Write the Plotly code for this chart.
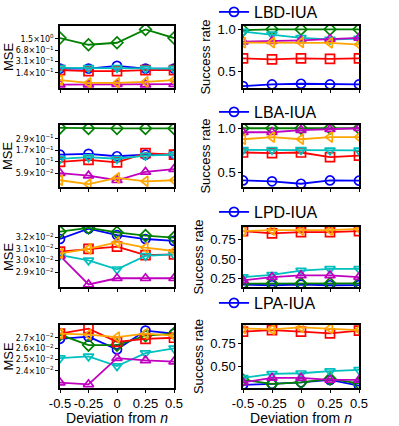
import plotly.graph_objects as go
import math

deviation = [-0.5, -0.25, 0, 0.25, 0.5]
attacks = ['LBD-IUA', 'LBA-IUA', 'LPD-IUA', 'LPA-IUA']

# порядок серий: blue, green, red, cyan, magenta, orange
colors = ['#0000FF', '#008000', '#FF0000', '#00BFBF', '#BF00BF', '#FFA500']
symbols = ['circle-open', 'diamond-open', 'square-open', 'triangle-down-open',
           'triangle-up-open', 'triangle-left-open']

# MSE (левая колонка)
mse_lbd = [
    [0.19, 0.19, 0.23, 0.19, 0.19],
    [1.6, 1.0, 1.15, 2.9, 1.6],
    [0.17, 0.16, 0.16, 0.17, 0.17],
    [0.20, 0.20, 0.20, 0.19, 0.19],
    [0.062, 0.062, 0.064, 0.062, 0.064],
    [0.085, 0.07, 0.07, 0.075, 0.085],
]
mse_lba = [
    [0.14, 0.145, 0.13, 0.14, 0.14],
    [0.48, 0.47, 0.47, 0.47, 0.47],
    [0.10, 0.11, 0.098, 0.15, 0.14],
    [0.115, 0.125, 0.116, 0.134, 0.14],
    [0.06, 0.053, 0.043, 0.063, 0.072],
    [0.043, 0.036, 0.048, 0.041, 0.043],
]
mse_lpd = [
    [0.03187, 0.03283, 0.03223, 0.03187, 0.03170],
    [0.03254, 0.03290, 0.03248, 0.03218, 0.03200],
    [0.03074, 0.03098, 0.03119, 0.03044, 0.03050],
    [0.03044, 0.02999, 0.02924, 0.03038, 0.03050],
    [0.03038, 0.02800, 0.02850, 0.02850, 0.02850],
    [0.03059, 0.03098, 0.03158, 0.03110, 0.03080],
]
mse_lpa = [
    [0.0269, 0.0271, 0.0259, 0.0277, 0.0274],
    [0.0273, 0.0263, 0.0263, 0.0272, 0.0274],
    [0.0274, 0.0279, 0.0266, 0.0269, 0.0270],
    [0.0251, 0.02526, 0.0244, 0.02556, 0.0260],
    [0.0230, 0.02286, 0.0251, 0.0249, 0.0248],
    [0.0274, 0.0273, 0.02706, 0.0274, 0.0272],
]

# Success rate (правая колонка)
sr_lbd = [
    [0.33, 0.35, 0.358, 0.35, 0.35],
    [0.99, 1.0, 1.0, 1.0, 1.0],
    [0.657, 0.646, 0.657, 0.652, 0.657],
    [0.972, 0.94, 0.90, 0.88, 0.89],
    [0.855, 0.86, 0.87, 0.885, 0.90],
    [0.843, 0.843, 0.845, 0.84, 0.82],
]
sr_lba = [
    [0.41, 0.40, 0.373, 0.41, 0.407],
    [1.0, 1.0, 1.0, 1.0, 1.0],
    [0.726, 0.72, 0.726, 0.673, 0.69],
    [0.756, 0.756, 0.756, 0.75, 0.75],
    [0.955, 0.955, 0.98, 0.99, 1.0],
    [0.876, 0.90, 0.876, 0.90, 0.90],
]
sr_lpd = [
    [0.175, 0.167, 0.175, 0.167, 0.17],
    [0.1875, 0.1875, 0.1875, 0.1875, 0.19],
    [0.854, 0.825, 0.842, 0.842, 0.854],
    [0.271, 0.30, 0.354, 0.375, 0.375],
    [0.229, 0.271, 0.292, 0.292, 0.271],
    [0.854, 0.867, 0.867, 0.867, 0.883],
]
sr_lpa = [
    [0.30, 0.309, 0.327, 0.353, 0.29],
    [0.353, 0.309, 0.327, 0.364, 0.316],
    [0.879, 0.897, 0.879, 0.86, 0.89],
    [0.375, 0.419, 0.426, 0.449, 0.463],
    [0.327, 0.375, 0.375, 0.353, 0.353],
    [0.915, 0.904, 0.926, 0.915, 0.897],
]

mse_data = [mse_lbd, mse_lba, mse_lpd, mse_lpa]
sr_data = [sr_lbd, sr_lba, sr_lpd, sr_lpa]

mse_tickvals = [
    [1.5, 0.68, 0.31, 0.14],
    [0.29, 0.17, 0.1, 0.059],
    [0.032, 0.031, 0.030, 0.029],
    [0.027, 0.026, 0.025, 0.024],
]
mse_ticktext = [
    ['1.5×10<sup>0</sup>', '6.8×10<sup>−1</sup>', '3.1×10<sup>−1</sup>', '1.4×10<sup>−1</sup>'],
    ['2.9×10<sup>−1</sup>', '1.7×10<sup>−1</sup>', '10<sup>−1</sup>', '5.9×10<sup>−2</sup>'],
    ['3.2×10<sup>−2</sup>', '3.1×10<sup>−2</sup>', '3.0×10<sup>−2</sup>', '2.9×10<sup>−2</sup>'],
    ['2.7×10<sup>−2</sup>', '2.6×10<sup>−2</sup>', '2.5×10<sup>−2</sup>', '2.4×10<sup>−2</sup>'],
]
mse_ranges = [[0.049, 3.7], [0.0315, 0.55], [0.02780, 0.03298], [0.02256, 0.02826]]

sr_tickvals = [[0.5, 1.0], [0.5, 1.0], [0.25, 0.5, 0.75], [0.5, 0.75]]
sr_ticktext = [['0.5', '1.0'], ['0.5', '1.0'], ['0.25', '0.50', '0.75'], ['0.50', '0.75']]
sr_ranges = [[0.308, 1.039], [0.336, 1.037], [0.145, 0.907], [0.265, 0.952]]

W, H = 399, 426
rows_px = [(26, 88), (125, 187), (227, 287), (325, 388)]
left_px = (60, 174)
right_px = (243, 359)
legend_y_px = [12, 112, 212, 303]


def px_x(p):
    return p / W


def px_y(p):
    return 1 - p / H


fig = go.Figure()
FONT = 'Liberation Sans, Arial, sans-serif'

for r in range(4):
    top, bot = rows_px[r]
    ydom = [px_y(bot), px_y(top)]
    lx = 2 * r + 1
    rx = 2 * r + 2
    for col, (xpx, data, ax) in enumerate([(left_px, mse_data[r], lx), (right_px, sr_data[r], rx)]):
        for s in range(6):
            show = (col == 1 and s == 0)
            fig.add_trace(go.Scatter(
                x=deviation, y=data[s], mode='lines+markers',
                name=attacks[r] if show else '',
                showlegend=show,
                legend='legend' if r == 0 else f'legend{r + 1}',
                line=dict(color=colors[s], width=1.8),
                marker=dict(symbol=symbols[s], size=9, color=colors[s], line=dict(width=1.7, color=colors[s])),
                xaxis=f'x{ax}', yaxis=f'y{ax}',
            ))
        xdom = [px_x(xpx[0]), px_x(xpx[1])]
        bottom = (r == 3)
        xaxis = dict(
            domain=xdom, anchor=f'y{ax}', range=[-0.5, 0.5], automargin=False,
            showline=True, linecolor='black', linewidth=1.5, mirror=True,
            ticks='outside', ticklen=3, tickcolor='black', tickangle=0,
            tickvals=deviation, ticktext=['-0.5', '-0.25', '0', '0.25', '0.5'],
            showticklabels=bottom, showgrid=False, zeroline=False,
            tickfont=dict(family=FONT, size=13, color='black'),
        )
        if bottom:
            xaxis['title'] = dict(text='Deviation from <i>n</i>', font=dict(family=FONT, size=14, color='black'), standoff=0)
        if col == 0:
            yaxis = dict(
                domain=ydom, anchor=f'x{ax}', type='log',
                range=[math.log10(mse_ranges[r][0]), math.log10(mse_ranges[r][1])],
                tickvals=mse_tickvals[r], ticktext=mse_ticktext[r],
                tickfont=dict(family='DejaVu Sans', size=8, color='black'),
            )
            fig.add_annotation(
                text='MSE', xref='paper', yref='paper', x=px_x(8), y=(ydom[0] + ydom[1]) / 2,
                xanchor='center', yanchor='middle', textangle=-90, showarrow=False,
                font=dict(family=FONT, size=13, color='black'),
            )
        else:
            yaxis = dict(
                domain=ydom, anchor=f'x{ax}', range=sr_ranges[r],
                tickvals=sr_tickvals[r], ticktext=sr_ticktext[r],
                tickfont=dict(family=FONT, size=13, color='black'),
                title=dict(text='Success rate', font=dict(family=FONT, size=13, color='black'), standoff=4),
            )
        yaxis.update(showline=True, linecolor='black', linewidth=1.5, mirror=True, automargin=False,
                     ticks='outside', ticklen=3, tickcolor='black', showgrid=False, zeroline=False)
        fig.layout[f'xaxis{ax}'] = xaxis
        fig.layout[f'yaxis{ax}'] = yaxis

for r in range(4):
    key = 'legend' if r == 0 else f'legend{r + 1}'
    fig.layout[key] = dict(
        x=px_x(214), y=px_y(legend_y_px[r]), xanchor='left', yanchor='middle',
        bgcolor='rgba(0,0,0,0)', font=dict(family=FONT, size=16, color='black'),
        itemwidth=30,
    )

fig.update_layout(
    width=W, height=H,
    margin=dict(l=0, r=0, t=0, b=0, autoexpand=False),
    plot_bgcolor='white', paper_bgcolor='white',
)

# убираем стандартный отступ body, чтобы фигура начиналась с (0, 0)
fig.write_html("out.html", config={'displayModeBar': False},
               post_script="document.body.style.margin='0';")
